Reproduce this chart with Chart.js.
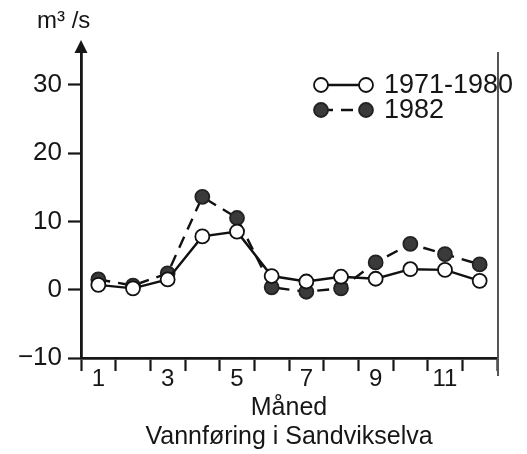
<!DOCTYPE html>
<html>
<head>
<meta charset="utf-8">
<script src="https://cdn.jsdelivr.net/npm/chart.js@4.4.0/dist/chart.umd.min.js"></script>
<style>
  html, body { margin: 0; padding: 0; background: #fff; }
</style>
</head>
<body>
<canvas id="vannforing" width="527" height="454"></canvas>
<script>
const maaneder = ['1', '2', '3', '4', '5', '6', '7', '8', '9', '10', '11', '12'];
const snitt7180 = [0.7, 0.2, 1.5, 7.8, 8.5, 2.0, 1.2, 1.9, 1.6, 3.0, 2.9, 1.3];
const aar1982 = [1.5, 0.6, 2.4, 13.6, 10.5, 0.35, -0.3, 0.2, 4.0, 6.7, 5.2, 3.7];
const yVerdier = [-10, 0, 10, 20, 30];
const enhet = 'm³ /s';
const tittelX = 'Måned';
const undertittel = 'Vannføring i Sandvikselva';

const skrift = 'Liberation Sans, Arial, sans-serif';
const blekk = '#161616';

// arrow on top of the y axis, unit label and right frame line
const pilOgRamme = {
    id: 'pilOgRamme',
    afterDraw(chart) {
        const { ctx, chartArea } = chart;
        const x = chartArea.left;
        const top = chartArea.top;
        ctx.save();
        ctx.fillStyle = blekk;
        ctx.beginPath();
        ctx.moveTo(x, top - 12);
        ctx.lineTo(x - 6.5, top + 1);
        ctx.lineTo(x + 6.5, top + 1);
        ctx.closePath();
        ctx.fill();

        ctx.font = '24px ' + skrift;
        ctx.textBaseline = 'alphabetic';
        ctx.textAlign = 'left';
        ctx.fillText(enhet, x - 44, top - 24);

        ctx.strokeStyle = '#555';
        ctx.lineWidth = 2;
        ctx.beginPath();
        ctx.moveTo(chartArea.right + 1, top);
        ctx.lineTo(chartArea.right + 1, chartArea.bottom + 18);
        ctx.stroke();
        ctx.restore();
    }
};

// legend: a line sample with a marker at each end
const linjeForklaring = {
    id: 'linjeForklaring',
    afterDraw(chart) {
        const { ctx, chartArea } = chart;
        const x0 = chartArea.right - 176;
        const x1 = chartArea.right - 131;
        chart.data.datasets.forEach((ds, i) => {
            const y = chartArea.top + 33 + i * 25;
            ctx.save();
            ctx.strokeStyle = ds.borderColor;
            ctx.lineWidth = ds.borderWidth;
            ctx.setLineDash(ds.borderDash || []);
            ctx.beginPath();
            ctx.moveTo(x0, y);
            ctx.lineTo(x1, y);
            ctx.stroke();
            ctx.setLineDash([]);
            [x0, x1].forEach(px => {
                ctx.beginPath();
                ctx.arc(px, y, ds.pointRadius, 0, Math.PI * 2);
                ctx.fillStyle = ds.pointBackgroundColor;
                ctx.fill();
                ctx.lineWidth = ds.pointBorderWidth;
                ctx.strokeStyle = ds.pointBorderColor;
                ctx.stroke();
            });
            ctx.fillStyle = blekk;
            ctx.font = '27px ' + skrift;
            ctx.textBaseline = 'alphabetic';
            ctx.fillText(ds.label, x1 + 18, y + 8);
            ctx.restore();
        });
    }
};

new Chart(document.getElementById('vannforing'), {
    type: 'line',
    data: {
        labels: maaneder,
        datasets: [{
            label: '1971-1980',
            data: snitt7180,
            borderColor: '#111',
            borderWidth: 2.4,
            pointRadius: 7,
            pointBackgroundColor: '#fff',
            pointBorderColor: '#111',
            pointBorderWidth: 1.8,
            tension: 0
        }, {
            label: '1982',
            data: aar1982,
            borderColor: '#111',
            borderWidth: 2.4,
            borderDash: [12, 8],
            pointRadius: 7,
            pointBackgroundColor: '#3a3a3a',
            pointBorderColor: '#222',
            pointBorderWidth: 1.8,
            tension: 0
        }]
    },
    options: {
        responsive: false,
        animation: false,
        layout: { padding: { top: 52, right: 30, left: 0, bottom: 0 } },
        plugins: {
            legend: { display: false },
            tooltip: { enabled: false }
        },
        scales: {
            x: {
                offset: true,
                grid: {
                    offset: true,
                    drawOnChartArea: false,
                    tickLength: 13,
                    color: blekk,
                    tickWidth: 2.2
                },
                border: { color: blekk, width: 2.8 },
                ticks: {
                    color: blekk,
                    font: { family: skrift, size: 24 },
                    padding: -6,
                    maxRotation: 0,
                    autoSkip: false,
                    callback: (v, i) => (i % 2 === 0 ? maaneder[i] : '')
                },
                title: {
                    display: true,
                    text: [tittelX, undertittel],
                    color: blekk,
                    font: { family: skrift, size: 25, lineHeight: 1.14 },
                    padding: { top: 0, bottom: 3 }
                },
                afterFit: s => { s.height = 96; }
            },
            y: {
                min: -10,
                max: 34.8,
                afterBuildTicks: s => { s.ticks = yVerdier.map(v => ({ value: v })); },
                afterFit: s => { s.width = 81; },
                grid: {
                    drawOnChartArea: false,
                    tickLength: 13,
                    color: blekk,
                    tickWidth: 2.2
                },
                border: { color: blekk, width: 2.8 },
                ticks: {
                    color: blekk,
                    font: { family: skrift, size: 26 },
                    padding: 6,
                    callback: v => (v < 0 ? '\u2212' + Math.abs(v) : String(v))
                }
            }
        }
    },
    plugins: [pilOgRamme, linjeForklaring]
});
</script>
</body>
</html>
